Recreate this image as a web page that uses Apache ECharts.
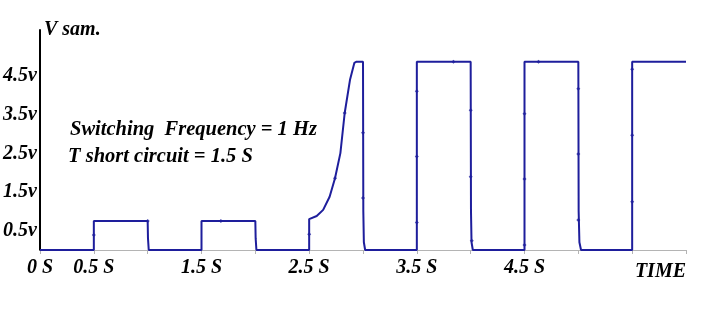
<!DOCTYPE html>
<html>
<head>
<meta charset="utf-8">
<script src="https://cdn.jsdelivr.net/npm/echarts@6/dist/echarts.min.js"></script>
<style>
html,body{margin:0;padding:0;background:#fff;}
#chart{width:710px;height:326px;}
</style>
</head>
<body>
<div id="chart"></div>
<script>
// Waveform (time in s, voltage in V)
var timeS = [0, 0.5, 0.5, 1.0, 1.003, 1.01, 1.5, 1.5, 2.0, 2.003, 2.01, 2.5, 2.5, 2.57, 2.63, 2.69, 2.74, 2.79, 2.83, 2.88, 2.92, 2.94, 3.0, 3.003, 3.008, 3.02, 3.5, 3.5, 4.0, 4.003, 4.008, 4.02, 4.5, 4.5, 5.0, 5.003, 5.01, 5.025, 5.5, 5.5, 6.0];
var voltV = [0, 0, 0.75, 0.75, 0.3, 0, 0, 0.75, 0.75, 0.3, 0, 0, 0.8, 0.88, 1.04, 1.38, 1.86, 2.51, 3.55, 4.42, 4.85, 4.88, 4.88, 1.0, 0.2, 0, 0, 4.88, 4.88, 1.0, 0.2, 0, 0, 4.88, 4.88, 1.0, 0.2, 0, 0, 4.88, 4.88];
// Simulation sample markers along the trace
var markT = [0.5, 1.0, 1.68, 2.5, 2.74, 2.83, 3.0, 3.0, 3.5, 3.5, 3.5, 3.84, 4.0, 4.0, 4.01, 4.5, 4.5, 4.5, 4.63, 5.0, 5.0, 5.0, 5.5, 5.5, 5.5];
var markV = [0.39, 0.75, 0.75, 0.41, 1.86, 3.55, 3.04, 1.35, 4.11, 2.42, 0.71, 4.88, 3.62, 1.9, 0.24, 3.53, 1.84, 0.13, 4.88, 4.18, 2.49, 0.78, 4.68, 2.97, 1.25];
// Axis labels
var xLabelValues = [0, 0.5, 1.5, 2.5, 3.5, 4.5];
var xTickValues = [0, 0.5, 1, 1.5, 2, 2.5, 3, 3.5, 4, 4.5, 5, 5.5, 6];
var yLabelValues = [0.5, 1.5, 2.5, 3.5, 4.5];
var annotations = ['Switching  Frequency = 1 Hz', 'T short circuit = 1.5 S'];

var lineData = timeS.map(function (t, i) { return [t, voltV[i]]; });
var markData = markT.map(function (t, i) { return [t, markV[i]]; });

var font = {fontFamily: '"Liberation Serif", "Times New Roman", serif', fontWeight: 'bold', fontStyle: 'italic', fontSize: 20, color: '#000'};
var blue = '#1e1e9c';
var annFont = 'italic bold 20.5px "Liberation Serif", serif';

var chart = echarts.init(document.getElementById('chart'), null, {renderer: 'canvas'});
chart.setOption({
  animation: false,
  backgroundColor: '#fff',
  grid: {left: 40, right: 24, top: 30, bottom: 76},
  xAxis: {
    type: 'value', min: 0, max: 6, interval: 0.5,
    name: 'TIME', nameLocation: 'end', nameGap: 0,
    nameTextStyle: Object.assign({}, font, {align: 'right', verticalAlign: 'top', padding: [12, 0, 0, 0]}),
    axisLine: {show: true, lineStyle: {color: '#b4b4b4', width: 1}},
    axisTick: {show: true, length: 4, customValues: xTickValues, lineStyle: {color: '#b4b4b4'}},
    axisLabel: Object.assign({}, font, {margin: 8, customValues: xLabelValues, formatter: function (v) { return v + ' S'; }}),
    splitLine: {show: false}
  },
  yAxis: {
    type: 'value', min: 0, max: 5.7,
    name: 'V sam.', nameLocation: 'end', nameGap: 0,
    nameTextStyle: Object.assign({}, font, {align: 'left', verticalAlign: 'middle', padding: [0, 0, 0, 4]}),
    axisLine: {show: true, onZero: false, lineStyle: {color: '#000', width: 2}},
    axisTick: {show: false},
    axisLabel: Object.assign({}, font, {margin: 3, customValues: yLabelValues, formatter: function (v) { return v + 'v'; }}),
    splitLine: {show: false}
  },
  graphic: [
    {type: 'text', left: 70, top: 120, style: {text: annotations[0], fill: '#000', font: annFont}},
    {type: 'text', left: 68, top: 147, style: {text: annotations[1], fill: '#000', font: annFont}}
  ],
  series: [
    {type: 'line', data: lineData, showSymbol: false, lineStyle: {color: blue, width: 2}, itemStyle: {color: blue}, z: 3},
    {type: 'scatter', data: markData, symbol: 'diamond', symbolSize: 4, itemStyle: {color: blue}, z: 4}
  ]
});
</script>
</body>
</html>
